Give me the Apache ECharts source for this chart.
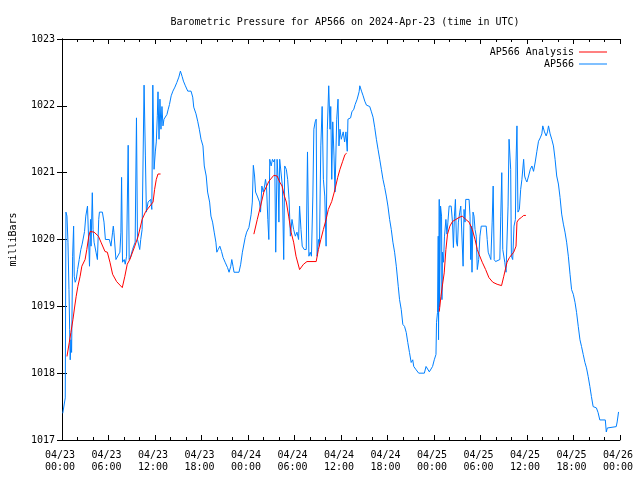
<!DOCTYPE html>
<html><head><meta charset="utf-8">
<script src="https://cdn.jsdelivr.net/npm/echarts@6/dist/echarts.min.js"></script>
<style>html,body{margin:0;padding:0;background:#fff}#c{width:640px;height:480px}</style>
</head><body><div id="c"></div>
<script>
const chartTitle = 'Barometric Pressure for AP566 on 2024-Apr-23 (time in UTC)';
const yAxisName = 'milliBars';
const seriesNames = ['AP566 Analysis', 'AP566'];
// x ticks every 6 hours from 2024-04-23 00:00 UTC (hours since start)
const xTickLabels = ['04/23\n00:00','04/23\n06:00','04/23\n12:00','04/23\n18:00','04/24\n00:00','04/24\n06:00','04/24\n12:00','04/24\n18:00','04/25\n00:00','04/25\n06:00','04/25\n12:00','04/25\n18:00','04/26\n00:00'];
const yRange = [1017, 1023];

// AP566 observations: [hours since 04/23 00:00, mbar]
const observed = [
[0.10,1017.40],[0.42,1017.63],[0.51,1020.41],[0.64,1020.35],[0.77,1019.96],[0.90,1019.25],[0.99,1018.65],[1.06,1018.20],[1.15,1018.50],[1.24,1018.31],
[1.37,1019.75],[1.50,1020.20],[1.58,1019.45],[1.70,1019.36],[1.83,1019.40],[2.01,1019.55],[2.22,1019.70],[2.43,1019.85],[2.60,1019.93],[2.78,1019.93],
[2.91,1020.12],[3.07,1020.35],[3.29,1020.50],[3.46,1020.50],[3.55,1019.60],[3.68,1020.30],[3.75,1019.90],[3.91,1020.70],[4.01,1020.15],[4.14,1019.96],
[4.39,1019.81],[4.57,1019.70],[4.74,1020.30],[4.83,1020.41],[5.21,1020.41],[5.42,1020.26],[5.60,1020.00],[6.11,1020.00],[6.32,1019.90],[6.53,1020.11],
[6.62,1020.20],[6.70,1020.11],[6.96,1019.70],[7.21,1019.70],[7.47,1019.81],[7.60,1020.11],[7.69,1020.93],[7.81,1019.66],[8.03,1019.70],[8.16,1019.63],
[8.33,1019.75],[8.54,1021.41],[8.67,1019.70],[8.84,1019.73],[9.10,1019.85],[9.26,1019.85],[9.44,1019.96],[9.61,1021.82],[9.74,1020.00],[10.03,1019.85],
[10.16,1020.00],[10.34,1020.15],[10.59,1022.31],[10.76,1021.25],[10.89,1020.41],[11.11,1020.56],[11.44,1020.60],[11.59,1020.45],[11.72,1022.31],[11.88,1021.05],
[12.04,1021.31],[12.17,1021.46],[12.30,1021.85],[12.39,1022.21],[12.52,1021.50],[12.64,1022.10],[12.77,1021.65],[12.90,1021.99],[13.03,1021.70],[13.16,1021.80],
[13.36,1021.80],[13.54,1021.87],[13.71,1021.95],[13.87,1022.02],[14.09,1022.15],[14.31,1022.22],[14.57,1022.28],[14.82,1022.35],[15.08,1022.43],[15.28,1022.52],
[15.50,1022.44],[15.67,1022.37],[15.92,1022.30],[16.23,1022.22],[16.65,1022.22],[16.87,1022.13],[17.00,1021.98],[17.29,1021.88],[17.51,1021.77],[17.72,1021.65],
[17.94,1021.50],[18.19,1021.40],[18.36,1021.10],[18.61,1020.95],[18.79,1020.71],[19.05,1020.56],[19.22,1020.35],[19.43,1020.26],[19.64,1020.11],[19.86,1019.96],
[19.98,1019.81],[20.15,1019.85],[20.37,1019.90],[20.59,1019.82],[20.79,1019.73],[21.05,1019.66],[21.36,1019.58],[21.56,1019.51],[21.78,1019.60],[21.91,1019.70],
[22.07,1019.60],[22.20,1019.51],[22.84,1019.51],[23.06,1019.63],[23.28,1019.81],[23.44,1019.81],[23.64,1020.03],[23.83,1020.11],[24.12,1020.18],[24.40,1020.37],
[24.56,1020.56],[24.69,1021.11],[24.85,1020.95],[24.98,1020.71],[25.20,1020.65],[25.49,1020.56],[25.62,1020.41],[25.79,1020.80],[25.97,1020.71],[26.14,1020.80],
[26.26,1020.90],[26.39,1020.80],[26.56,1020.30],[26.69,1020.00],[26.81,1021.20],[26.99,1021.10],[27.16,1021.20],[27.33,1021.16],[27.45,1021.20],[27.58,1019.81],
[27.76,1021.20],[27.89,1020.90],[27.99,1020.26],[28.09,1021.20],[28.31,1021.20],[28.44,1020.80],[28.61,1019.70],[28.74,1021.10],[28.95,1021.05],[29.12,1020.90],
[29.30,1020.60],[29.47,1020.05],[29.68,1020.30],[29.89,1020.15],[30.11,1020.05],[30.32,1020.11],[30.53,1020.00],[30.66,1020.50],[30.84,1020.15],[31.00,1019.90],
[31.26,1019.85],[31.52,1019.85],[31.68,1021.31],[31.86,1019.75],[32.03,1019.81],[32.19,1019.75],[32.37,1020.65],[32.50,1021.65],[32.67,1021.76],[32.80,1021.80],
[32.92,1019.75],[33.09,1020.00],[33.22,1019.90],[33.40,1021.40],[33.57,1021.99],[33.73,1020.90],[33.91,1020.65],[34.08,1019.90],[34.24,1021.65],[34.42,1022.30],
[34.59,1021.65],[34.68,1021.99],[34.81,1020.90],[34.94,1021.76],[35.10,1021.25],[35.23,1020.71],[35.45,1021.80],[35.62,1022.10],[35.74,1021.40],[35.87,1021.65],
[36.04,1021.50],[36.29,1021.61],[36.47,1021.46],[36.64,1021.61],[36.81,1021.32],[36.90,1021.80],[37.24,1021.82],[37.41,1021.91],[37.66,1021.95],[37.83,1022.02],
[38.09,1022.10],[38.34,1022.21],[38.43,1022.30],[38.65,1022.22],[38.86,1022.15],[39.07,1022.07],[39.29,1022.01],[39.71,1021.99],[39.93,1021.91],[40.14,1021.83],
[40.35,1021.68],[40.57,1021.50],[40.78,1021.35],[41.00,1021.20],[41.21,1021.05],[41.42,1020.90],[41.64,1020.78],[41.85,1020.65],[42.06,1020.50],[42.28,1020.30],
[42.49,1020.15],[42.70,1019.96],[42.92,1019.81],[43.14,1019.60],[43.39,1019.30],[43.56,1019.10],[43.78,1018.95],[43.98,1018.73],[44.20,1018.70],[44.42,1018.61],
[44.62,1018.46],[44.84,1018.31],[45.06,1018.16],[45.26,1018.20],[45.39,1018.10],[45.70,1018.05],[46.03,1018.00],[46.76,1018.00],[46.98,1018.10],[47.18,1018.08],
[47.40,1018.02],[47.62,1018.00],[47.82,1018.10],[48.04,1018.20],[48.26,1018.28],[48.33,1018.76],[48.46,1018.91],[48.55,1020.05],[48.59,1018.50],[48.68,1020.60],
[48.72,1018.99],[48.85,1020.50],[48.98,1020.35],[49.03,1019.10],[49.10,1019.81],[49.23,1019.66],[49.36,1020.05],[49.54,1020.30],[49.67,1020.08],[49.80,1020.26],
[49.96,1020.50],[50.22,1020.50],[50.39,1020.26],[50.51,1019.88],[50.64,1020.35],[50.77,1020.60],[50.90,1019.96],[51.03,1019.90],[51.15,1020.26],[51.33,1020.41],
[51.46,1020.50],[51.63,1020.50],[51.76,1019.60],[51.88,1020.45],[52.01,1020.26],[52.10,1020.60],[52.53,1020.60],[52.65,1020.35],[52.74,1019.70],[52.82,1020.20],
[52.91,1019.51],[53.04,1020.41],[53.17,1020.35],[53.30,1020.15],[53.46,1020.05],[53.59,1019.55],[53.77,1019.70],[53.93,1020.05],[54.10,1020.20],[54.74,1020.20],
[54.87,1020.00],[55.00,1019.81],[55.18,1019.75],[55.34,1019.70],[55.51,1020.26],[55.64,1020.80],[55.77,1019.70],[55.95,1019.67],[56.50,1019.70],[56.62,1020.35],
[56.75,1021.00],[56.88,1019.85],[57.14,1019.66],[57.30,1019.51],[57.48,1019.51],[57.56,1020.50],[57.69,1021.50],[57.81,1021.50],[57.90,1021.05],[57.99,1019.75],
[58.16,1019.70],[58.33,1020.20],[58.51,1020.30],[58.59,1021.16],[58.71,1021.70],[58.84,1020.41],[59.02,1020.45],[59.19,1020.75],[59.35,1020.90],[59.57,1021.20],
[59.70,1020.95],[59.83,1020.90],[59.99,1020.86],[60.21,1020.95],[60.43,1021.05],[60.64,1021.10],[60.85,1021.02],[61.07,1021.16],[61.28,1021.32],[61.49,1021.47],
[61.71,1021.52],[61.92,1021.58],[62.04,1021.70],[62.26,1021.61],[62.48,1021.55],[62.65,1021.61],[62.78,1021.70],[62.99,1021.58],[63.20,1021.50],[63.42,1021.40],
[63.63,1021.20],[63.84,1020.95],[64.06,1020.83],[64.27,1020.63],[64.48,1020.38],[64.70,1020.23],[64.91,1020.11],[65.12,1019.96],[65.34,1019.75],[65.56,1019.48],
[65.76,1019.25],[65.98,1019.18],[66.20,1019.06],[66.40,1018.91],[66.62,1018.70],[66.84,1018.50],[67.04,1018.40],[67.26,1018.28],[67.48,1018.16],[67.68,1018.08],
[67.90,1017.95],[68.12,1017.80],[68.32,1017.65],[68.54,1017.50],[68.96,1017.48],[69.18,1017.41],[69.40,1017.30],[70.11,1017.30],[70.24,1017.12],[70.37,1017.18],
[70.55,1017.20],[71.52,1017.20],[71.64,1017.27],[71.82,1017.42]
];

// AP566 Analysis: three separate runs
const analysisRun1 = [
[0.64,1018.25],[0.94,1018.46],[1.15,1018.61],[1.41,1018.80],[1.63,1018.99],[1.83,1019.15],[2.05,1019.30],[2.34,1019.45],[2.56,1019.60],[2.98,1019.70],
[3.20,1019.85],[3.46,1020.05],[3.63,1020.12],[4.14,1020.11],[4.70,1020.05],[5.03,1019.96],[5.55,1019.82],[5.85,1019.81],[6.19,1019.66],[6.53,1019.48],
[7.05,1019.37],[7.78,1019.28],[8.11,1019.45],[8.42,1019.63],[8.75,1019.70],[9.39,1019.90],[9.83,1020.05],[10.34,1020.30],[10.80,1020.42],[11.75,1020.56],
[11.95,1020.75],[12.17,1020.90],[12.39,1020.98],[12.72,1020.98]
];
const analysisRun2 = [
[24.76,1020.08],[25.20,1020.30],[25.62,1020.50],[26.05,1020.71],[26.69,1020.87],[27.33,1020.96],[27.76,1020.95],[28.09,1020.86],[28.40,1020.80],[28.70,1020.65],
[28.95,1020.56],[29.25,1020.35],[29.56,1020.11],[29.89,1019.96],[30.20,1019.75],[30.66,1019.55],[31.17,1019.63],[31.61,1019.67],[32.80,1019.67],[33.09,1019.85],
[33.40,1020.00],[33.73,1020.15],[34.08,1020.30],[34.37,1020.45],[34.81,1020.57],[35.23,1020.75],[35.58,1020.93],[35.87,1021.05],[36.22,1021.17],[36.51,1021.27],
[36.73,1021.29]
];
const analysisRun3 = [
[48.68,1018.92],[48.90,1019.15],[49.10,1019.32],[49.32,1019.50],[49.54,1019.85],[49.75,1020.08],[50.05,1020.20],[50.39,1020.27],[50.82,1020.30],[51.24,1020.33],
[51.67,1020.35],[52.10,1020.30],[52.53,1020.26],[52.95,1020.15],[53.30,1020.00],[53.59,1019.85],[53.81,1019.78],[54.23,1019.66],[54.67,1019.55],[55.09,1019.43],
[55.60,1019.36],[56.15,1019.33],[56.72,1019.31],[57.01,1019.45],[57.43,1019.66],[57.74,1019.73],[58.29,1019.81],[58.59,1019.90],[58.71,1020.26],[58.93,1020.30],
[59.28,1020.33],[59.57,1020.36],[59.86,1020.36]
];

const FONT = 'DejaVu Sans Mono';
const analysisData = [].concat(analysisRun1, [[null, null]], analysisRun2, [[null, null]], analysisRun3);

const chart = echarts.init(document.getElementById('c'), null, {renderer: 'canvas'});
const txt = {fontFamily: FONT, fontSize: 10, color: '#000'};
const lineAx = {show: true, lineStyle: {color: '#000', width: 1}};
const xCommon = {
  type: 'value', min: 0, max: 72, interval: 6,
  axisLine: lineAx,
  axisTick: {show: true, inside: true, length: 5, lineStyle: {color: '#000'}},
  minorTick: {show: true, splitNumber: 3, length: 3, lineStyle: {color: '#000'}},
  splitLine: {show: false}, minorSplitLine: {show: false}
};
const yCommon = {
  type: 'value', min: yRange[0], max: yRange[1], interval: 1,
  axisLine: lineAx,
  axisTick: {show: true, inside: true, length: 5, lineStyle: {color: '#000'}},
  splitLine: {show: false}
};
const legendCommon = {right: 28, orient: 'vertical', align: 'right', icon: 'rect', itemWidth: 28, itemHeight: 1,
  textStyle: txt, selectedMode: false};
chart.setOption({
  animation: false,
  backgroundColor: '#fff',
  title: {text: chartTitle, left: 340, textAlign: 'center', top: 12,
    textStyle: {fontFamily: FONT, fontSize: 10, fontWeight: 'normal', color: '#000'}},
  legend: [
    Object.assign({}, legendCommon, {data: [seriesNames[0]], top: 42}),
    Object.assign({}, legendCommon, {data: [seriesNames[1]], top: 54})
  ],
  grid: {left: 59, right: 18, top: 39, bottom: 40, containLabel: false},
  xAxis: [
    Object.assign({}, xCommon, {position: 'bottom',
      axisLabel: Object.assign({}, txt, {margin: 9, lineHeight: 12, padding: [0, 4, 0, 0], showMinLabel: true, showMaxLabel: true,
        formatter: v => xTickLabels[Math.round(v / 6)] || ''})}),
    Object.assign({}, xCommon, {position: 'top', axisLabel: {show: false}})
  ],
  yAxis: [
    Object.assign({}, yCommon, {position: 'left', name: yAxisName, nameLocation: 'middle', nameGap: 44,
      nameTextStyle: txt,
      axisLabel: Object.assign({}, txt, {margin: 7, formatter: v => String(v)})}),
    Object.assign({}, yCommon, {position: 'right', axisLabel: {show: false}})
  ],
  series: [
    {name: seriesNames[0], type: 'line', data: analysisData, symbol: 'none', connectNulls: false, z: 3,
     lineStyle: {color: '#ff0000', width: 1}, itemStyle: {color: '#ff0000'}},
    {name: seriesNames[1], type: 'line', data: observed, symbol: 'none', z: 2,
     lineStyle: {color: '#0080ff', width: 1}, itemStyle: {color: '#0080ff'}}
  ]
});
</script></body></html>
